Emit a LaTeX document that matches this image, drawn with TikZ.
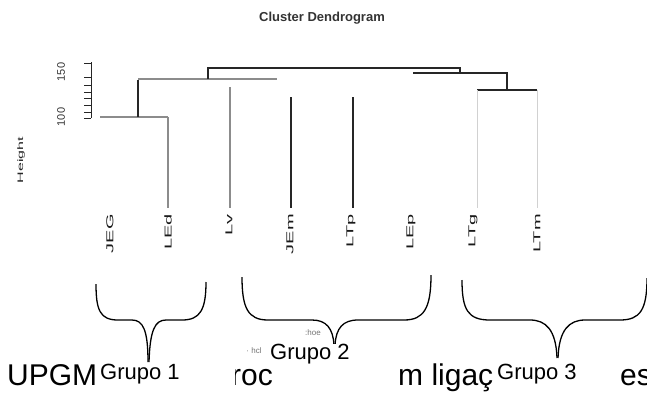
\documentclass[tikz,border=0pt]{standalone}
\usepackage{fontspec}
\setmainfont{Liberation Sans}
\begin{document}
\begin{tikzpicture}[x=1pt,y=-1pt,
  dk/.style={line width=1.8pt,black!85},
  gr/.style={line width=1.2pt,black!45},
  lg/.style={line width=1pt,black!18},
  leaf/.style={rotate=90,anchor=east,inner sep=0pt,black!90,font=\fontsize{10}{10}\selectfont},
  big/.style={anchor=base west,inner sep=0pt,font=\fontsize{30}{30}\selectfont},
  grp/.style={anchor=base west,inner sep=0pt,fill=white,font=\fontsize{22}{22}\selectfont},
  sub/.style={font=\fontsize{8}{8}\selectfont,black!55},
  brace/.style={line width=1.3pt,black}]
\useasboundingbox (0,0) rectangle (647,394);
% title
\node[font=\bfseries\fontsize{13}{13}\selectfont,black!80] (title) at (322,18) {Cluster Dendrogram};
% y axis
\draw[line width=1pt,black!85] (91,62) -- (91,118);
\foreach \yy in {63,77,85,92,98,105,112,118} \draw[line width=1pt,black!85] (91,\yy) -- (84,\yy);
\node[rotate=90,font=\fontsize{11}{11}\selectfont,black!80] (l150) at (61,72) {150};
\node[rotate=90,font=\fontsize{11}{11}\selectfont,black!80] (l100) at (61,117) {100};
\node[rotate=90,font=\fontsize{8}{8}\selectfont,black!85] (ylab) at (21,160) {\scalebox{2}[1]{Height}};
% dendrogram
\draw[gr] (100,117) -- (168,117);
\draw[dk] (138,80) -- (138,117);
\draw[gr] (168,117) -- (168,208);
\draw[gr] (138,79) -- (277,79);
\draw[dk] (208,79) -- (208,68) -- (460,68) -- (460,73);
\draw[dk] (413,73) -- (507,73) -- (507,90);
\draw[dk] (477,90) -- (537,90);
\draw[lg] (477,90) -- (477,208);
\draw[lg] (537,90) -- (537,208);
\draw[gr] (230,87) -- (230,208);
\draw[dk] (291,97) -- (291,208);
\draw[dk] (353,97) -- (353,208);
% leaf labels
\foreach \xx/\tt in {110/JEG,168/LEd,229/Lv,290/JEm,351/LTp,411/LEp,473/LTg,537/LTm}
  \node[leaf] at (\xx,214) {\scalebox{2}[1]{\tt}};
% big text fragments
\node[big] (t1) at (7,385) {UPGM};
\node[big] (t2) at (231,385) {roc};
\fill[white] (228,356) rectangle (235,392);
\node[big] (t3) at (398,385) {m ligaç};
\node[big] (t4) at (620,385) {es};
% axis sub labels
\node[sub] (dlab) at (313,333) {:hoe};
\node[sub] (hlab) at (254,351) {· hcl};
% braces
\draw[brace] (96,284) .. controls (96,310) and (100,320) .. (118,320) -- (132,320)
  .. controls (143,320) and (148,330) .. (148,362);
\draw[brace] (206,282) .. controls (206,310) and (200,320) .. (182,320) -- (166,320)
  .. controls (155,320) and (150,330) .. (149,362);
\draw[brace] (242,277) .. controls (242,308) and (248,320) .. (268,320) -- (312,320)
  .. controls (326,320) and (333,328) .. (334,345);
\draw[brace] (431,275) .. controls (431,308) and (424,320) .. (404,320) -- (358,320)
  .. controls (343,320) and (336,328) .. (335,345);
\draw[brace] (462,280) .. controls (462,310) and (468,320) .. (490,320) -- (530,320)
  .. controls (546,320) and (556,330) .. (557,358);
\draw[brace] (647,278) .. controls (647,310) and (640,320) .. (620,320) -- (585,320)
  .. controls (569,320) and (559,330) .. (558,358);
% group labels
\node[grp] (g1) at (100,379) {Grupo 1};
\node[grp] (g2) at (270,359) {Grupo 2};
\node[grp] (g3) at (497,379) {Grupo 3};
\end{tikzpicture}
\end{document}
